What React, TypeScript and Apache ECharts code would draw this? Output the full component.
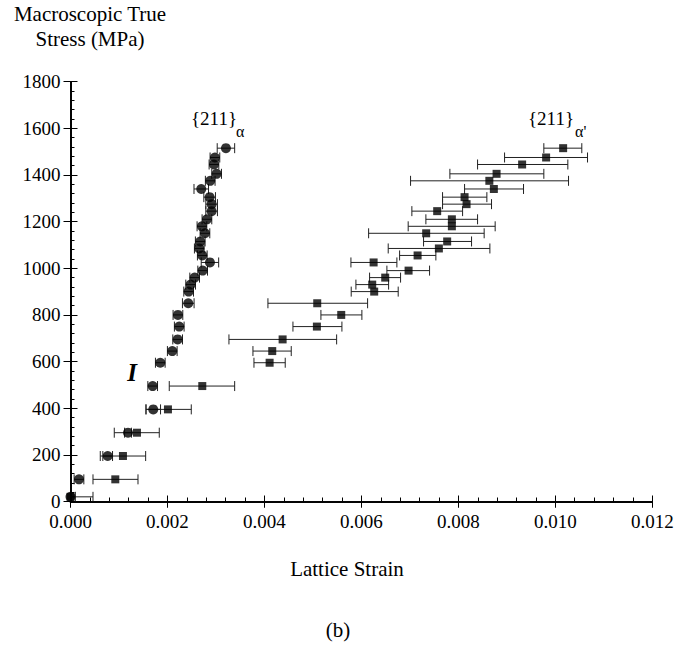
import React, { useEffect, useRef } from "react";
import * as echarts from "echarts";

// Macroscopic true stress levels (MPa)
const stress = [20, 95, 195, 295, 395, 495, 595, 645, 695, 750, 800, 850, 900, 930, 960, 990, 1025, 1055, 1085, 1115, 1150, 1180, 1210, 1245, 1275, 1305, 1340, 1375, 1405, 1445, 1475, 1515];

// {211} alpha (ferrite) lattice strain, with error half-widths
const alphaStrain = [0, 0.000175, 0.000767, 0.001186, 0.001707, 0.001695, 0.001852, 0.002099, 0.00221, 0.002243, 0.002216, 0.002429, 0.002437, 0.002478, 0.002561, 0.002726, 0.002876, 0.002718, 0.002656, 0.002676, 0.002773, 0.002711, 0.002814, 0.002911, 0.002911, 0.00287, 0.002697, 0.002882, 0.003014, 0.002959, 0.002979, 0.003206];
const alphaErr = [0.0001, 0.0001, 0.0001, 0.00007, 0.00015, 0.0001, 0.0001, 0.0001, 0.0001, 0.0001, 0.0001, 0.00012, 0.0001, 0.0001, 0.0001, 0.0001, 0.00018, 0.0001, 0.0001, 0.0001, 0.0001, 0.0001, 0.0001, 0.00012, 0.00012, 0.00012, 0.00015, 0.0001, 0.0001, 0.0001, 0.0001, 0.00018];

// {211} alpha' (martensite) lattice strain, with error bar ends
const martStrain = [0, 0.000924, 0.001082, 0.001371, 0.00201, 0.002718, 0.004107, 0.004161, 0.004375, 0.005082, 0.005584, 0.005089, 0.006264, 0.006223, 0.006491, 0.006973, 0.006252, 0.007159, 0.007598, 0.007769, 0.007336, 0.007866, 0.007866, 0.007563, 0.008169, 0.008128, 0.008732, 0.008639, 0.008788, 0.009315, 0.00981, 0.010161];
const martLow = [-0.00046, 0.000464, 0.000614, 0.000903, 0.001557, 0.002037, 0.003784, 0.003763, 0.003268, 0.004588, 0.005165, 0.004072, 0.00579, 0.005887, 0.006169, 0.006526, 0.005784, 0.006788, 0.006553, 0.007282, 0.006149, 0.006965, 0.00733, 0.007041, 0.007674, 0.007674, 0.008128, 0.007014, 0.007825, 0.008396, 0.008953, 0.009763];
const martHigh = [0.000464, 0.001392, 0.00155, 0.001831, 0.002491, 0.003386, 0.004429, 0.004553, 0.005489, 0.005598, 0.00601, 0.006128, 0.006759, 0.006561, 0.006808, 0.007406, 0.006732, 0.007536, 0.00865, 0.008272, 0.008532, 0.008759, 0.008396, 0.008087, 0.008684, 0.008588, 0.009344, 0.010272, 0.009763, 0.010258, 0.010664, 0.010546];

const xTicks = { min: 0, max: 0.012, interval: 0.002 };
const yTicks = { min: 0, max: 1800, interval: 200 };

const FONT = "Liberation Serif";

export default function App() {
  const ref = useRef<HTMLDivElement>(null);

  useEffect(() => {
    if (!ref.current) return;
    const chart = echarts.init(ref.current, null, { renderer: "svg" });

    const alphaPts = alphaStrain.map((x, i) => [x, stress[i]]);
    const martPts = martStrain.map((x, i) => [x, stress[i]]);
    const alphaBars = alphaStrain.map((x, i) => [x - alphaErr[i], x + alphaErr[i], stress[i]]);
    const martBars = martStrain.map((_, i) => [martLow[i], martHigh[i], stress[i]]);

    const axisLine = { show: true, lineStyle: { color: "#000", width: 1.5 } };
    const tickStyle = { color: "#000", width: 1 };

    const errRender = (params: any, api: any) => {
      const y = api.value(2);
      const p1 = api.coord([api.value(0), y]);
      const p2 = api.coord([api.value(1), y]);
      const h = 5;
      const style = { stroke: "#222", lineWidth: 1, fill: null };
      return {
        type: "group",
        children: [
          { type: "line", shape: { x1: p1[0], y1: p1[1], x2: p2[0], y2: p2[1] }, style },
          { type: "line", shape: { x1: p1[0], y1: p1[1] - h, x2: p1[0], y2: p1[1] + h }, style },
          { type: "line", shape: { x1: p2[0], y1: p2[1] - h, x2: p2[0], y2: p2[1] + h }, style },
        ],
      };
    };

    const xBase = { type: "value", ...xTicks, splitLine: { show: false }, axisLine };
    const yBase = { type: "value", ...yTicks, splitLine: { show: false }, axisLine };

    const txt = (text: string, x: number, y: number, size: number, extra: any = {}) => ({
      type: "text",
      x,
      y,
      style: {
        text,
        fontFamily: FONT,
        fontSize: size,
        fill: "#000",
        align: "center",
        verticalAlign: "middle",
        ...extra,
      },
    });

    chart.setOption({
      animation: false,
      backgroundColor: "#fff",
      grid: { left: 70.5, right: 24.7, top: 81.7, bottom: 143.5, containLabel: false, outerBoundsMode: "none" },
      xAxis: [
        {
          ...xBase,
          position: "bottom",
          axisTick: { show: true, inside: false, length: 6, lineStyle: tickStyle },
          axisLabel: {
            color: "#000", fontFamily: FONT, fontSize: 19, margin: 10,
            formatter: (v: number) => v.toFixed(3),
          },
        },
        {
          ...xBase,
          position: "bottom",
          axisTick: { show: true, inside: true, length: 6, lineStyle: tickStyle },
          minorTick: { show: true, splitNumber: 5, length: 4, lineStyle: tickStyle },
          axisLabel: { show: false },
        },
        {
          ...xBase,
          position: "top",
          axisTick: { show: true, inside: true, length: 6, lineStyle: tickStyle },
          axisLabel: { show: false },
        },
      ],
      yAxis: [
        {
          ...yBase,
          position: "left",
          axisTick: { show: true, inside: false, length: 7, lineStyle: tickStyle },
          axisLabel: {
            color: "#000", fontFamily: FONT, fontSize: 19, margin: 10,
            formatter: (v: number) => String(v),
          },
        },
        {
          ...yBase,
          position: "left",
          axisTick: { show: true, inside: true, length: 7, lineStyle: tickStyle },
          minorTick: { show: true, splitNumber: 5, length: 4, lineStyle: tickStyle },
          axisLabel: { show: false },
        },
        {
          ...yBase,
          position: "right",
          axisTick: { show: true, inside: true, length: 6, lineStyle: tickStyle },
          axisLabel: { show: false },
        },
      ],
      series: [
        {
          type: "custom",
          name: "alphaPrimeErr",
          renderItem: errRender,
          data: martBars,
          encode: { x: [0, 1], y: 2 },
          clip: true,
          z: 2,
        },
        {
          type: "custom",
          name: "alphaErr",
          renderItem: errRender,
          data: alphaBars,
          encode: { x: [0, 1], y: 2 },
          clip: true,
          z: 2,
        },
        {
          type: "scatter",
          name: "{211} alpha'",
          data: martPts,
          symbol: "rect",
          symbolSize: 8,
          itemStyle: { color: "#000" },
          z: 3,
        },
        {
          type: "scatter",
          name: "{211} alpha",
          data: alphaPts,
          symbol: "circle",
          symbolSize: 10,
          itemStyle: { color: "#000" },
          z: 4,
        },
      ],
      graphic: [
        txt("Macroscopic True", 90, 14, 21),
        txt("Stress (MPa)", 90, 39, 21),
        txt("Lattice Strain", 347, 569, 21),
        txt("(b)", 338, 630, 21),
        txt("{211}", 191, 118, 19, { align: "left" }),
        txt("α", 236, 131, 16, { align: "left" }),
        txt("{211}", 528, 118, 19, { align: "left" }),
        txt("α'", 575, 131, 16, { align: "left" }),
        txt("I", 132, 372, 25, { fontStyle: "italic", fontWeight: "bold" }),
      ],
    });

    return () => chart.dispose();
  }, []);

  return (
    <div
      ref={ref}
      style={{ position: "absolute", left: 0, top: 0, width: 677, height: 645, background: "#fff" }}
    />
  );
}
